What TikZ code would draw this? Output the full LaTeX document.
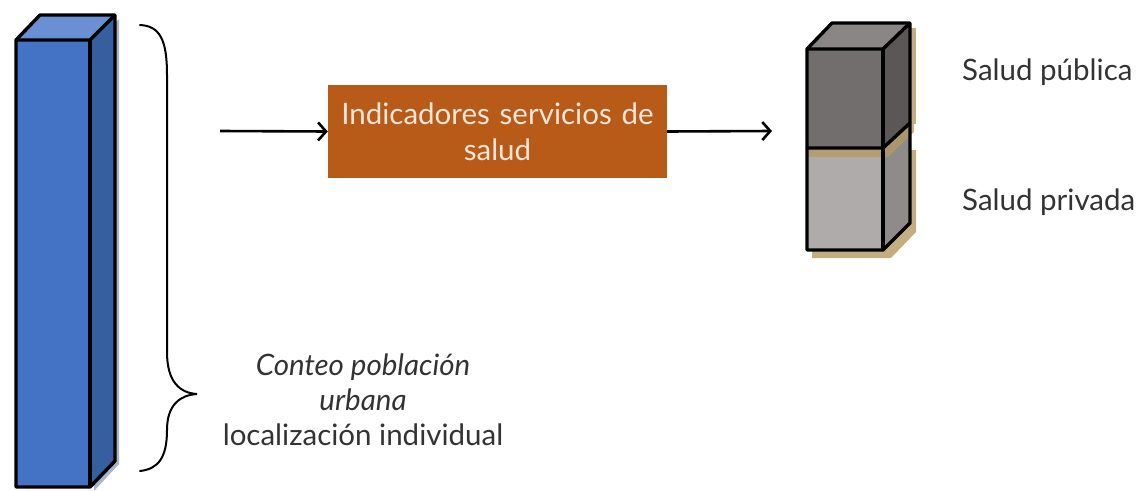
\documentclass[tikz,border=0pt]{standalone}
\usepackage{fontspec}
\setmainfont{Lato}
\usetikzlibrary{arrows.meta}
\definecolor{bfront}{HTML}{4472C4}
\definecolor{btop}{HTML}{6A8FD2}
\definecolor{bside}{HTML}{355F9F}
\definecolor{bshadow}{HTML}{A9B4C8}
\definecolor{boxc}{HTML}{B85A18}
\definecolor{boxtext}{HTML}{F6E6D8}
\definecolor{ufront}{HTML}{726E6D}
\definecolor{uside}{HTML}{5A5756}
\definecolor{utop}{HTML}{8A8685}
\definecolor{lfront}{HTML}{AFABAA}
\definecolor{lside}{HTML}{8E8B8A}
\definecolor{tan}{HTML}{B59A62}
\definecolor{txt}{HTML}{333333}
\tikzset{
  edge/.style={line width=3.4pt, line join=round},
  arr/.style={line width=2.6pt, -{Straight Barb[length=8pt,width=18pt,line width=2.6pt]}},
  lbl/.style={font=\fontsize{29.5}{36}\selectfont, text=txt, inner sep=0pt},
}
\begin{document}
\begin{tikzpicture}[x=1pt,y=-1pt]
\useasboundingbox (0,0) rectangle (1145,490);
% blue bar shadow
\fill[bshadow] (94,44) -- (119,19) -- (119,464) -- (94,491) -- cycle;
% blue bar
\fill[bfront] (16,40) rectangle (90,487);
\fill[btop] (16,40) -- (40,15) -- (115,15) -- (90,40) -- cycle;
\fill[bside] (90,40) -- (115,15) -- (115,461) -- (90,487) -- cycle;
\draw[edge] (16,40) -- (40,15) -- (115,15) -- (115,461) -- (90,487) -- (16,487) -- cycle;
\draw[edge] (16,40) -- (90,40) -- (115,15);
\draw[edge] (90,40) -- (90,487);
% brace
\draw[line width=2pt, line cap=round] (140,25) .. controls (160,26) and (167,40) .. (167,75)
  -- (167,352) .. controls (167,382) and (180,393) .. (197,394)
  .. controls (180,395) and (167,405) .. (167,430)
  .. controls (167,458) and (158,469) .. (140,471);
% text under
\node[lbl, align=center, font=\fontsize{29.5}{35}\selectfont\itshape] (conteo) at (363,382) {Conteo población\\urbana};
\node[lbl] (loc) at (363,435) {localización individual};
% box
\node[fill=boxc, minimum width=339pt, minimum height=93pt, text width=330pt, align=center,
  text=boxtext, font=\fontsize{29.5}{36}\selectfont, inner sep=0pt] (ind) at (497.5,131.5)
  {Indicadores servicios de\\salud};
\coordinate (start) at (220,131);
\coordinate (end) at (772,131);
\draw[arr] (start) -- (ind.west);
\draw[arr] (ind.east) -- (end);
% lower cube shadow
\fill[tan, opacity=0.8] (812,250) -- (812,258) -- (891,258) -- (916,232) -- (916,150) -- (910,150) -- (910,223) -- (885,250) -- cycle;
% lower cube
\fill[lfront] (807,148) rectangle (883,250);
\fill[lside] (883,148) -- (910,123) -- (910,223) -- (883,250) -- cycle;
% upper cube shadow on lower
\fill[tan, opacity=0.75] (808,149) -- (808,157) -- (888,157) -- (914,132) -- (914,124) -- (910,124) -- (884,149) -- cycle;
\draw[edge] (807,148) -- (807,250) -- (883,250) -- (910,223) -- (910,123);
\draw[edge] (883,148) -- (883,250);
% upper cube shadow right
\fill[tan, opacity=0.8] (910,28) -- (916,28) -- (916,124) -- (910,124) -- cycle;
% upper cube
\fill[ufront] (807,49) rectangle (883,148);
\fill[utop] (807,49) -- (832,23) -- (910,23) -- (883,49) -- cycle;
\fill[uside] (883,49) -- (910,23) -- (910,123) -- (883,148) -- cycle;
\draw[edge] (807,49) -- (832,23) -- (910,23) -- (910,123) -- (883,148) -- (807,148) -- cycle;
\draw[edge] (807,49) -- (883,49) -- (910,23);
\draw[edge] (883,49) -- (883,148);
% labels
\node[lbl, anchor=west] (pub) at (962,72) {Salud pública};
\node[lbl, anchor=west] (priv) at (962,202) {Salud privada};
\end{tikzpicture}
\end{document}
